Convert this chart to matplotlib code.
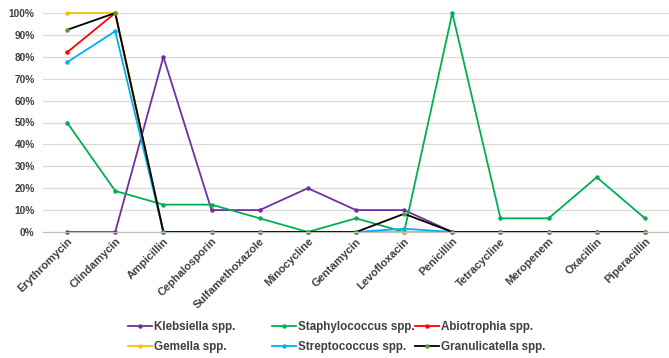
import matplotlib
matplotlib.use("Agg")
import matplotlib.pyplot as plt
from matplotlib.ticker import FuncFormatter

categories = ["Erythromycin", "Clindamycin", "Ampicillin", "Cephalosporin",
              "Sulfamethoxazole", "Minocycline", "Gentamycin", "Levofloxacin",
              "Penicillin", "Tetracycline", "Meropenem", "Oxacillin", "Piperacillin"]

klebsiella = [0, 0, 80, 10, 10, 20, 10, 10, 0, 0, 0, 0, 0]
staphylococcus = [50, 18.75, 12.5, 12.5, 6.25, 0, 6.25, 0, 100, 6.25, 6.25, 25, 6.25]
abiotrophia = [82, 100, 0, 0, 0, 0, 0, 0, 0, 0, 0, 0, 0]
gemella = [100, 100, 0, 0, 0, 0, 0, 0, 0, 0, 0, 0, 0]
streptococcus = [77.5, 91.7, 0, 0, 0, 0, 0, 1.5, 0, 0, 0, 0, 0]
granulicatella = [92.3, 100, 0, 0, 0, 0, 0, 8.3, 0, 0, 0, 0, 0]

series = [
    ("Klebsiella spp.", klebsiella, "#7030a0", "#7030a0"),
    ("Staphylococcus spp.", staphylococcus, "#00b050", "#00b050"),
    ("Abiotrophia spp.", abiotrophia, "#ff0000", "#ff0000"),
    ("Gemella spp.", gemella, "#ffc000", "#ffc000"),
    ("Streptococcus spp.", streptococcus, "#00b0f0", "#00b0f0"),
    ("Granulicatella spp.", granulicatella, "#000000", "#5b9a3a"),
]

plt.rcParams['font.family'] = ['Liberation Sans', 'DejaVu Sans']

fig = plt.figure(figsize=(6.69, 3.58), dpi=100)
ax = fig.add_axes([43 / 669, (358 - 232) / 358, (669 - 43) / 669, (232 - 13) / 358])

x = list(range(len(categories)))
handles = {}
for name, vals, col, mcol in series:
    h, = ax.plot(x, vals, color=col, lw=1.3, marker='o', ms=2.2,
                 markerfacecolor=mcol, markeredgecolor=mcol, label=name, clip_on=False)
    handles[name] = h

ax.set_xlim(-0.5, len(categories) - 0.5)
ax.set_ylim(0, 100)
ax.set_yticks(range(0, 101, 10))
ax.yaxis.set_major_formatter(FuncFormatter(lambda v, p: f"{int(v)}%"))
ax.set_xticks(x)
ax.set_xticklabels(categories, rotation=45, ha='right', rotation_mode='anchor')
ax.grid(axis='y', color='#d9d9d9', lw=0.9)
ax.set_axisbelow(True)
for s in ['top', 'right', 'left']:
    ax.spines[s].set_visible(False)
ax.spines['bottom'].set_color('#bfbfbf')
ax.tick_params(axis='both', length=0, labelcolor='#404040')
ax.tick_params(axis='y', labelsize=7.3, pad=6)
ax.tick_params(axis='x', labelsize=8.0, pad=3)
for lbl in ax.get_xticklabels() + ax.get_yticklabels():
    lbl.set_fontweight('bold')

columns = [
    (["Klebsiella spp.", "Gemella spp."], 128),
    (["Staphylococcus spp.", "Streptococcus spp."], 272),
    (["Abiotrophia spp.", "Granulicatella spp."], 415),
]
for names, xpx in columns:
    leg = fig.legend([handles[n] for n in names], names, loc='center left',
                     bbox_to_anchor=(xpx / 669, 1 - 337 / 358), frameon=False,
                     prop={'size': 8.4, 'weight': 'bold'}, handlelength=2.05,
                     handletextpad=0.15, labelspacing=0.7, borderpad=0,
                     borderaxespad=0)
    for t in leg.get_texts():
        t.set_color('#404040')

fig.savefig("out.png", dpi=100)
